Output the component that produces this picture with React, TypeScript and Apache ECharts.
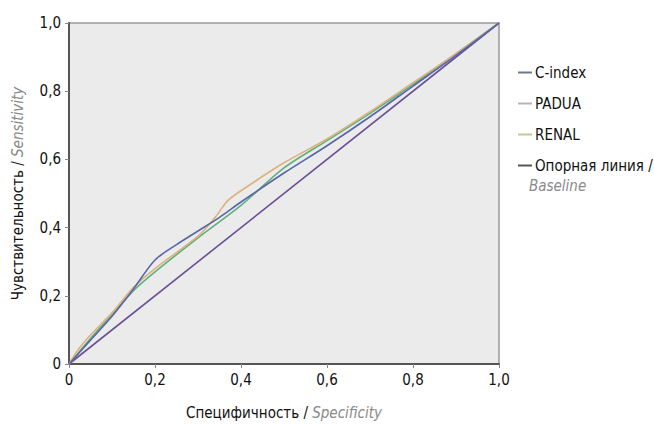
import React, { useEffect, useRef } from "react";
import * as echarts from "echarts";

const seriesNames = ["C-index", "PADUA", "RENAL", "Опорная линия /"];

const cIndex: [number, number][] = [
  [0, 0], [0.05, 0.07], [0.1, 0.14], [0.15, 0.22], [0.2, 0.305], [0.25, 0.35],
  [0.3, 0.39], [0.35, 0.43], [0.4, 0.475], [0.5, 0.56], [0.6, 0.64],
  [0.7, 0.725], [0.8, 0.815], [0.9, 0.905], [1, 1],
];
const padua: [number, number][] = [
  [0, 0], [0.02, 0.04], [0.05, 0.085], [0.1, 0.15], [0.15, 0.225], [0.2, 0.28],
  [0.3, 0.375], [0.34, 0.43], [0.37, 0.48], [0.42, 0.525], [0.5, 0.59],
  [0.6, 0.66], [0.7, 0.74], [0.8, 0.825], [0.9, 0.91], [1, 1],
];
const renal: [number, number][] = [
  [0, 0], [0.05, 0.075], [0.1, 0.145], [0.15, 0.215], [0.2, 0.27], [0.3, 0.37],
  [0.4, 0.465], [0.5, 0.575], [0.6, 0.655], [0.7, 0.735], [0.8, 0.82],
  [0.9, 0.91], [1, 1],
];
const baseline: [number, number][] = [[0, 0], [1, 1]];

const seriesColors = ["#5866a8", "#dcb27a", "#5fb07e", "#6a4f96"];
const legendColors = ["#6d7888", "#b5b5b5", "#c2c98a", "#555555"];

const FONT = "'Liberation Sans Narrow', 'DejaVu Sans Condensed', sans-serif";

const fmt = (v: number) => (v === 0 ? "0" : v.toFixed(1).replace(".", ","));

export default function App() {
  const ref = useRef<HTMLDivElement>(null);
  useEffect(() => {
    if (!ref.current) return;
    const chart = echarts.init(ref.current, undefined, { renderer: "svg" });
    const datasets = [cIndex, padua, renal, baseline];
    chart.setOption({
      animation: false,
      backgroundColor: "#ffffff",
      textStyle: { fontFamily: FONT },
      grid: {
        left: 69, right: 155, top: 23, bottom: 56,
        show: true, backgroundColor: "#ebebeb", borderColor: "#9a9a9a", borderWidth: 1.5,
      },
      legend: {
        orient: "vertical",
        left: 513, top: 60,
        itemWidth: 14, itemHeight: 2, itemGap: 16,
        icon: "rect",
        textStyle: { fontFamily: FONT, fontSize: 15, color: "#111", padding: [0, 0, 0, -2] },
        data: seriesNames.map((n, i) => ({ name: n, itemStyle: { color: legendColors[i] } })),
      },
      graphic: [
        {
          type: "text", left: 529, top: 178,
          style: { text: "Baseline", fontFamily: FONT, fontSize: 15, fontStyle: "italic", fill: "#8a8a8a" },
        },
      ],
      xAxis: {
        type: "value", min: 0, max: 1, interval: 0.2,
        name: "Специфичность / {i|Specificity}",
        nameLocation: "middle", nameGap: 41,
        nameTextStyle: {
          fontFamily: FONT, fontSize: 15, color: "#111",
          rich: { i: { fontFamily: FONT, fontSize: 15, fontStyle: "italic", color: "#8a8a8a" } },
        },
        axisLine: { show: true, lineStyle: { color: "#555", width: 2 } },
        axisTick: { show: true, length: 4, lineStyle: { color: "#888" } },
        axisLabel: { formatter: fmt, fontFamily: FONT, fontSize: 15, color: "#111", margin: 8 },
        splitLine: { show: false },
      },
      yAxis: {
        type: "value", min: 0, max: 1, interval: 0.2,
        name: "Чувствительность / {i|Sensitivity}",
        nameLocation: "middle", nameGap: 44, nameRotate: 90,
        nameTextStyle: {
          fontFamily: FONT, fontSize: 15, color: "#111",
          rich: { i: { fontFamily: FONT, fontSize: 15, fontStyle: "italic", color: "#8a8a8a" } },
        },
        axisLine: { show: true, lineStyle: { color: "#555", width: 2 } },
        axisTick: { show: true, length: 4, lineStyle: { color: "#888" } },
        axisLabel: { formatter: fmt, fontFamily: FONT, fontSize: 15, color: "#111", margin: 8 },
        splitLine: { show: false },
      },
      series: datasets.map((d, i) => ({
        name: seriesNames[i],
        type: "line",
        data: d,
        showSymbol: false,
        symbol: "none",
        smooth: i === 3 ? false : 0.3,
        color: seriesColors[i],
        lineStyle: { color: seriesColors[i], width: 1.6 },
        z: 10 - i,
      })),
    });
    return () => chart.dispose();
  }, []);
  return (
    <div
      ref={ref}
      style={{ position: "fixed", left: 0, top: 0, width: 654, height: 425 }}
    />
  );
}
